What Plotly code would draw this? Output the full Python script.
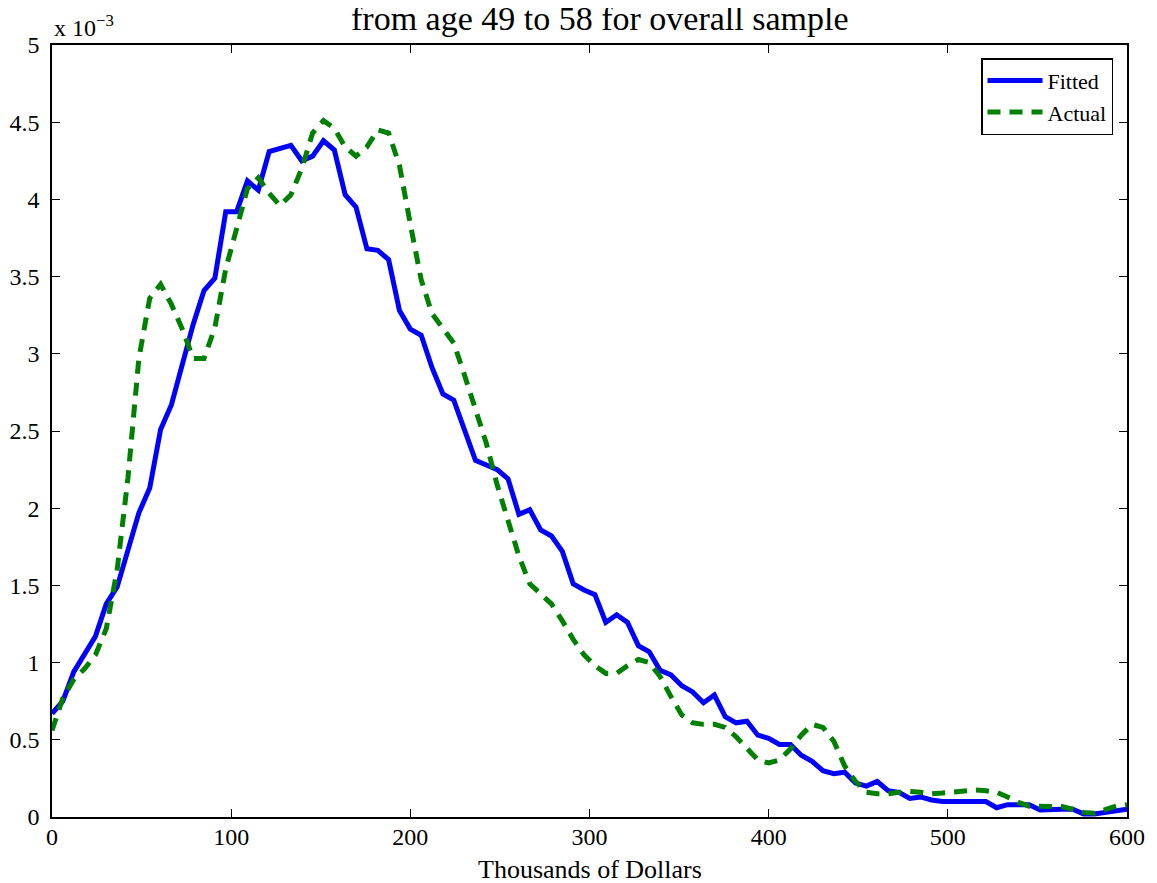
import numpy as np
import plotly.graph_objects as go

# wealth grid, thousands of dollars (100 points from 0 to 600)
wealth = np.linspace(0, 600, 100)

# density values, in units of 1e-3
fitted = [
    0.67, 0.75, 0.94, 1.05, 1.17, 1.38, 1.49, 1.73, 1.97, 2.13,
    2.51, 2.67, 2.92, 3.19, 3.41, 3.49, 3.92, 3.92, 4.12, 4.06,
    4.31, 4.33, 4.35, 4.25, 4.28, 4.38, 4.32, 4.03, 3.95, 3.68,
    3.67, 3.61, 3.28, 3.16, 3.12, 2.91, 2.74, 2.70, 2.50, 2.31,
    2.28, 2.25, 2.19, 1.96, 1.99, 1.86, 1.82, 1.72, 1.51, 1.47,
    1.44, 1.26, 1.31, 1.26, 1.11, 1.07, 0.95, 0.92, 0.85, 0.81,
    0.74, 0.79, 0.65, 0.61, 0.62, 0.53, 0.51, 0.47, 0.47, 0.40,
    0.36, 0.30, 0.28, 0.29, 0.22, 0.20, 0.23, 0.17, 0.16, 0.12,
    0.13, 0.11, 0.10, 0.10, 0.10, 0.10, 0.10, 0.06, 0.08, 0.08,
    0.08, 0.045, 0.05, 0.05, 0.05, 0.02, 0.02, 0.03, 0.04, 0.05,
]

actual = [
    0.56, 0.77, 0.89, 0.96, 1.05, 1.22, 1.60, 2.20, 2.97, 3.36,
    3.45, 3.32, 3.16, 2.97, 2.97, 3.17, 3.55, 3.82, 4.07, 4.14,
    4.04, 3.96, 4.03, 4.20, 4.43, 4.51, 4.46, 4.34, 4.28, 4.34,
    4.45, 4.43, 4.22, 3.84, 3.48, 3.26, 3.17, 3.07, 2.86, 2.63,
    2.42, 2.15, 1.91, 1.69, 1.51, 1.44, 1.38, 1.27, 1.15, 1.05,
    0.98, 0.93, 0.93, 0.98, 1.02, 1.00, 0.91, 0.78, 0.66, 0.61,
    0.60, 0.60, 0.58, 0.52, 0.44, 0.37, 0.35, 0.37, 0.44, 0.53,
    0.60, 0.58, 0.49, 0.33, 0.23, 0.16, 0.15, 0.15, 0.16, 0.165,
    0.16, 0.15, 0.155, 0.16, 0.17, 0.175, 0.17, 0.16, 0.13, 0.095,
    0.07, 0.067, 0.07, 0.068, 0.05, 0.03, 0.025, 0.05, 0.07, 0.08,
]

FONT = "Liberation Serif, Times New Roman, serif"

fig = go.Figure()
fig.add_trace(go.Scatter(
    x=wealth, y=fitted, mode="lines", name="Fitted",
    line=dict(color="#0000FF", width=5),
))
fig.add_trace(go.Scatter(
    x=wealth, y=actual, mode="lines", name="Actual",
    line=dict(color="#008000", width=5, dash="13px,9px"),
))

axis_common = dict(
    showline=True, linecolor="black", linewidth=1.5, mirror="allticks",
    ticks="inside", ticklen=8, tickcolor="black", showgrid=False,
    zeroline=False, automargin=False,
    tickfont=dict(family=FONT, size=24, color="black"),
)

# the page body adds an 8px offset, so the figure is a bit smaller than the window
fig.update_layout(
    width=1141, height=875,
    paper_bgcolor="white", plot_bgcolor="white",
    margin=dict(l=44, r=22, t=37, b=66),
    font=dict(family=FONT, color="black"),
    xaxis=dict(
        range=[0, 600], tickvals=[0, 100, 200, 300, 400, 500, 600],
        ticklabelstandoff=-3,
        **axis_common,
    ),
    yaxis=dict(
        range=[0, 5], tickvals=[0, 0.5, 1, 1.5, 2, 2.5, 3, 3.5, 4, 4.5, 5],
        ticktext=["0", "0.5", "1", "1.5", "2", "2.5", "3", "3.5", "4", "4.5", "5"],
        ticklabelstandoff=6,
        **axis_common,
    ),
    legend=dict(
        x=0.987, xanchor="right", y=0.983, yanchor="top",
        bgcolor="white", bordercolor="black", borderwidth=1.5,
        font=dict(family=FONT, size=22, color="black"),
        tracegroupgap=0, itemwidth=55,
    ),
    showlegend=True,
)

# title (only the second line shows in the original, the first is off the top)
fig.add_annotation(
    xref="paper", yref="paper", x=0.51, y=1.0, xanchor="center", yanchor="bottom",
    text="from age 49 to 58 for overall sample", showarrow=False, yshift=6,
    font=dict(family=FONT, size=34, color="black"),
)

fig.add_annotation(
    xref="paper", yref="paper", x=0.5, y=0, xanchor="center", yanchor="top",
    text="Thousands of Dollars", showarrow=False, yshift=-36,
    font=dict(family=FONT, size=26, color="black"),
)

fig.add_annotation(
    xref="paper", yref="paper", x=0, y=1.0, xanchor="left", yanchor="bottom",
    text="x 10<sup>−3</sup>", showarrow=False, yshift=2,
    font=dict(family=FONT, size=24, color="black"),
)

fig.write_html("out.html")
